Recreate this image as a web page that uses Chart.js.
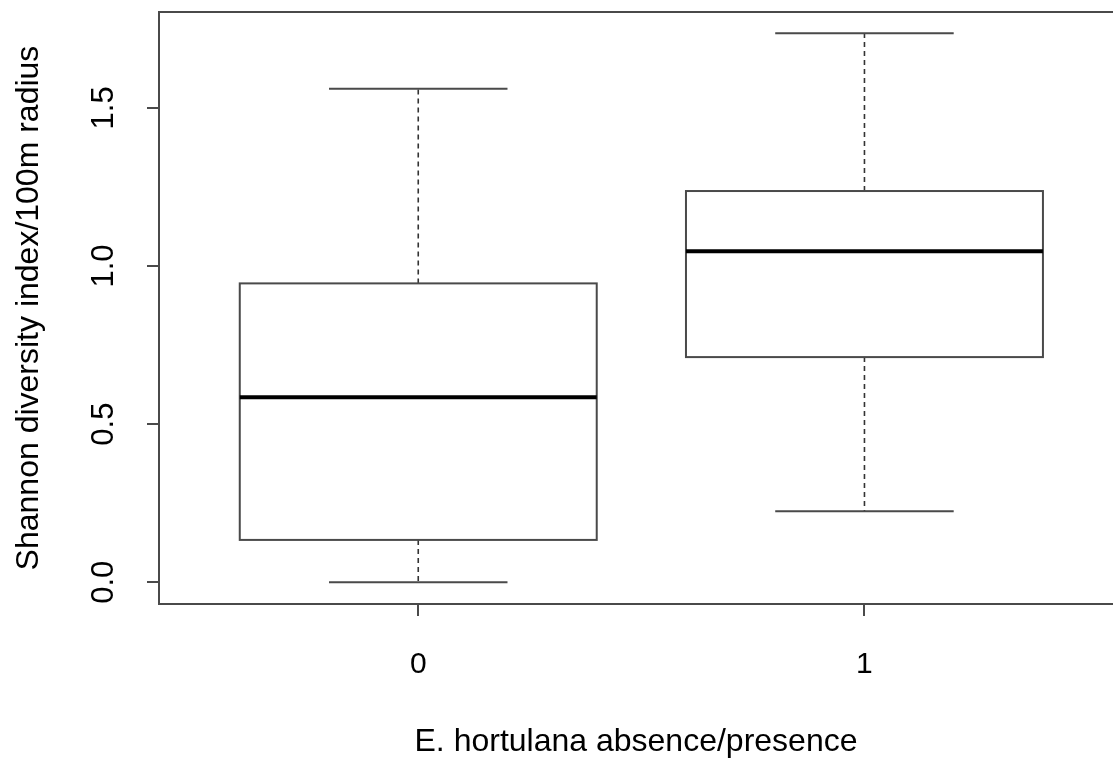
<!DOCTYPE html>
<html>
<head>
<meta charset="utf-8">
<script src="https://cdn.jsdelivr.net/npm/chart.js@4"></script>
<style>
  html, body { margin: 0; padding: 0; background: #fff; }
  #wrap { width: 1113px; height: 758px; }
</style>
</head>
<body>
<div id="wrap"><canvas id="boxChart" width="1113" height="758"></canvas></div>
<script>
// box plot summary per group
const groups = ['0', '1'];
const groupPos = [1, 2];
const whiskerLow = [0.0, 0.225];
const q1 = [0.134, 0.712];
const median = [0.585, 1.047];
const q3 = [0.945, 1.237];
const whiskerHigh = [1.560, 1.736];
const yTicks = [0, 0.5, 1.0, 1.5];

const LINE = '#4a4a4a';
const FONT = 'Liberation Sans, Arial, sans-serif';

// draws the R-style boxes, whiskers and frame from the scales
const boxPlotPlugin = {
    id: 'boxPlot',
    afterDatasetsDraw(chart) {
        const c = chart.ctx;
        const x = chart.scales.x;
        const y = chart.scales.y;
        const area = chart.chartArea;

        c.save();
        c.lineCap = 'butt';

        groups.forEach((g, i) => {
            const cx = x.getPixelForValue(groupPos[i]);
            const left = x.getPixelForValue(groupPos[i] - 0.4);
            const right = x.getPixelForValue(groupPos[i] + 0.4);
            const capL = x.getPixelForValue(groupPos[i] - 0.2);
            const capR = x.getPixelForValue(groupPos[i] + 0.2);
            const yLo = y.getPixelForValue(whiskerLow[i]);
            const yQ1 = y.getPixelForValue(q1[i]);
            const yMed = y.getPixelForValue(median[i]);
            const yQ3 = y.getPixelForValue(q3[i]);
            const yHi = y.getPixelForValue(whiskerHigh[i]);

            // dashed whiskers
            c.strokeStyle = '#333';
            c.lineWidth = 1.6;
            c.setLineDash([5, 4]);
            c.beginPath();
            c.moveTo(cx, yQ1); c.lineTo(cx, yLo);
            c.moveTo(cx, yQ3); c.lineTo(cx, yHi);
            c.stroke();
            c.setLineDash([]);

            // caps
            c.strokeStyle = LINE;
            c.lineWidth = 2;
            c.beginPath();
            c.moveTo(capL, yLo); c.lineTo(capR, yLo);
            c.moveTo(capL, yHi); c.lineTo(capR, yHi);
            c.stroke();

            // box
            c.strokeRect(left, yQ3, right - left, yQ1 - yQ3);

            // median
            c.strokeStyle = '#000';
            c.lineWidth = 4;
            c.beginPath();
            c.moveTo(left, yMed); c.lineTo(right, yMed);
            c.stroke();
        });

        // plot frame (right side runs off the canvas)
        c.strokeStyle = LINE;
        c.lineWidth = 2;
        c.beginPath();
        c.moveTo(area.right + 2, area.top);
        c.lineTo(area.left, area.top);
        c.lineTo(area.left, area.bottom);
        c.lineTo(area.right + 2, area.bottom);
        c.stroke();

        // x axis line between first and last tick
        c.beginPath();
        c.moveTo(x.getPixelForValue(groupPos[0]), area.bottom);
        c.lineTo(x.getPixelForValue(groupPos[groupPos.length - 1]), area.bottom);
        c.stroke();
        c.restore();
    }
};

new Chart(document.getElementById('boxChart'), {
    type: 'scatter',
    data: {
        datasets: [{
            data: [],
            showLine: false
        }]
    },
    options: {
        responsive: false,
        animation: false,
        layout: { padding: { top: 12, right: 0, left: 0, bottom: 0 } },
        plugins: {
            legend: { display: false },
            tooltip: { enabled: false }
        },
        scales: {
            x: {
                type: 'linear',
                min: 0.419,
                max: 2.557,
                afterBuildTicks: (scale) => {
                    scale.ticks = groupPos.map(v => ({ value: v }));
                },
                afterFit: (scale) => {
                    scale.height = 154;
                    scale.paddingLeft = 0;
                    scale.paddingRight = 0;
                },
                border: { display: false },
                grid: {
                    drawOnChartArea: false,
                    drawTicks: true,
                    tickLength: 12,
                    color: LINE,
                    lineWidth: 2
                },
                ticks: {
                    padding: 31,
                    color: '#000',
                    font: { family: FONT, size: 30 },
                    maxRotation: 0,
                    callback: (v) => groups[groupPos.indexOf(v)]
                },
                title: {
                    display: true,
                    text: 'E. hortulana absence/presence',
                    color: '#000',
                    font: { family: FONT, size: 32, lineHeight: 1.0 },
                    padding: { top: 0, bottom: 0 }
                }
            },
            y: {
                min: -0.0686,
                max: 1.803,
                afterBuildTicks: (scale) => {
                    scale.ticks = yTicks.map(v => ({ value: v }));
                },
                afterFit: (scale) => {
                    scale.width = 159;
                    scale.paddingTop = 0;
                    scale.paddingBottom = 0;
                },
                border: { display: false },
                grid: {
                    drawOnChartArea: false,
                    drawTicks: true,
                    tickLength: 12,
                    color: LINE,
                    lineWidth: 2
                },
                ticks: {
                    padding: 21,
                    color: '#000',
                    minRotation: 90,
                    maxRotation: 90,
                    crossAlign: 'center',
                    font: { family: FONT, size: 31 },
                    callback: (v) => v.toFixed(1)
                },
                title: {
                    display: true,
                    text: 'Shannon diversity index/100m radius',
                    color: '#000',
                    font: { family: FONT, size: 32, lineHeight: 1.2 },
                    padding: { top: 10, bottom: 0 }
                }
            }
        }
    },
    plugins: [boxPlotPlugin]
});
</script>
</body>
</html>
